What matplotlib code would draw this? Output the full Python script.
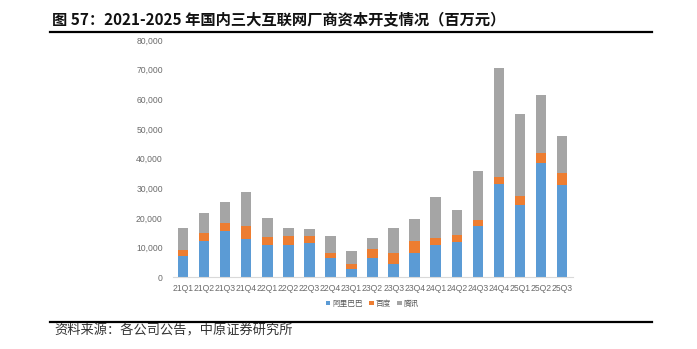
import matplotlib
matplotlib.use("Agg")
import matplotlib.pyplot as plt
from matplotlib.lines import Line2D
from matplotlib.ticker import FuncFormatter

plt.rcParams['font.family'] = ['Noto Sans CJK SC', 'DejaVu Sans']

quarters = ["21Q1", "21Q2", "21Q3", "21Q4", "22Q1", "22Q2", "22Q3", "22Q4",
            "23Q1", "23Q2", "23Q3", "23Q4", "24Q1", "24Q2", "24Q3", "24Q4",
            "25Q1", "25Q2", "25Q3"]

# Capex by company, million CNY
alibaba = [7100, 12200, 15500, 12800, 11100, 11100, 11500, 6400,
           3000, 6400, 4700, 8400, 10800, 11800, 17200, 31400,
           24300, 38500, 31100]
baidu = [2000, 2700, 2700, 4400, 2400, 2800, 2400, 2000,
         1700, 3100, 3700, 3800, 2400, 2400, 2000, 2400,
         3100, 3600, 4000]
tencent = [7500, 6700, 7100, 11500, 6400, 2700, 2300, 5500,
           4100, 3700, 8200, 7400, 13800, 8400, 16600, 36800,
           27700, 19400, 12500]

series_names = ["阿里巴巴", "百度", "腾讯"]
colors = ["#5B9BD5", "#ED7D31", "#A5A5A5"]

fig = plt.figure(figsize=(6.97, 3.49), dpi=100)
ax = fig.add_axes([0.2475, 0.205, 0.574, 0.68])

x = list(range(len(quarters)))
width = 0.5
bottom2 = [a + b for a, b in zip(alibaba, baidu)]
ax.bar(x, alibaba, width, color=colors[0], label=series_names[0])
ax.bar(x, baidu, width, bottom=alibaba, color=colors[1], label=series_names[1])
ax.bar(x, tencent, width, bottom=bottom2, color=colors[2], label=series_names[2])

ax.set_xlim(-0.5, len(quarters) - 0.5)
ax.set_ylim(0, 80000)
ax.set_yticks(range(0, 80001, 10000))
ax.yaxis.set_major_formatter(FuncFormatter(lambda v, p: f"{int(v):,}"))
ax.set_xticks(x)
ax.set_xticklabels(quarters)
ax.tick_params(axis='both', length=0, labelsize=6.2, colors="#6b6b6b")
ax.tick_params(axis='y', pad=7)
ax.tick_params(axis='x', pad=5)
for lbl in ax.get_xticklabels() + ax.get_yticklabels():
    lbl.set_family(["Liberation Sans", "DejaVu Sans"])
for side in ["top", "right", "left"]:
    ax.spines[side].set_visible(False)
ax.spines["bottom"].set_color("#D9D9D9")
ax.spines["bottom"].set_linewidth(0.8)

leg = ax.legend(loc="upper center", bbox_to_anchor=(0.5, -0.065), ncol=3,
                frameon=False, fontsize=5.5, handlelength=0.6, handleheight=0.6,
                handletextpad=0.3, columnspacing=0.8)
for t in leg.get_texts():
    t.set_color("#595959")

# Header and footer
fig.text(0.075, 0.945, "图 57：2021-2025 年国内三大互联网厂商资本开支情况（百万元）",
         fontsize=11, fontweight="bold", color="#111111", va="center", ha="left")
fig.add_artist(Line2D([0.072, 0.935], [0.908, 0.908], color="black", lw=1.6,
                      transform=fig.transFigure))
fig.add_artist(Line2D([0.072, 0.935], [0.078, 0.078], color="black", lw=1.6,
                      transform=fig.transFigure))
fig.text(0.078, 0.052, "资料来源：各公司公告，中原证券研究所", fontsize=9.5,
         color="#333333", va="center", ha="left")

fig.savefig("out.png", dpi=100)
